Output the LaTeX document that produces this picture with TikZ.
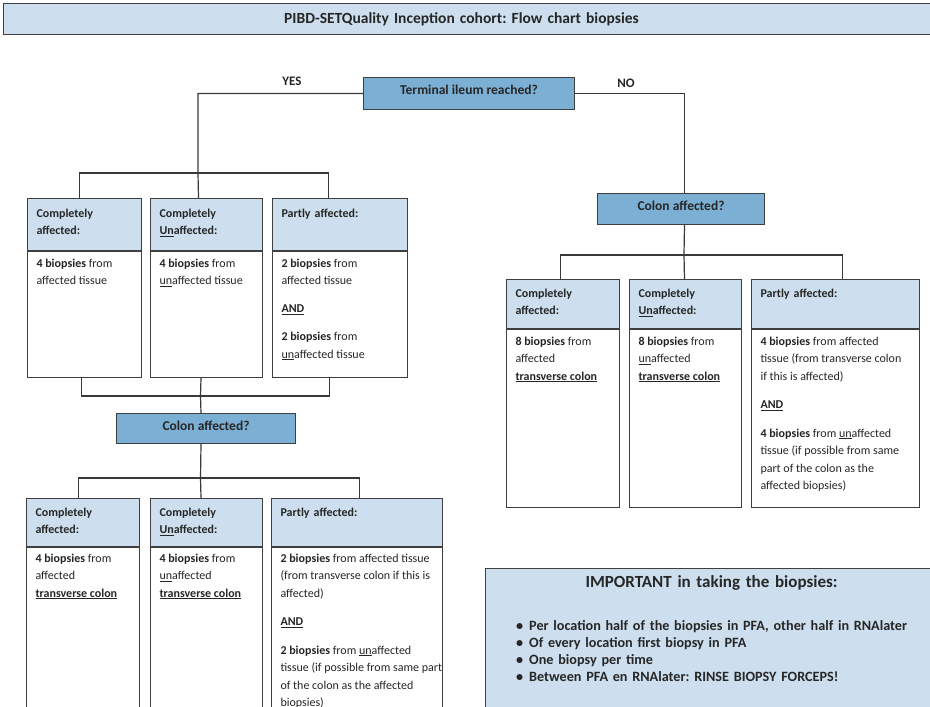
\documentclass[tikz,border=0pt]{standalone}
\usepackage{fontspec}
\setmainfont{Carlito}
\frenchspacing
\definecolor{pale}{HTML}{CDDFEE}
\definecolor{steel}{HTML}{7BAFD4}
\definecolor{boxline}{HTML}{3F3F3F}
\definecolor{ink}{HTML}{262626}
% body text: fixed width, left aligned, lines broken by hand only
\newcommand\bodytext[2]{\makebox[#1][l]{\begin{tabular}[t]{@{}l@{}}#2\end{tabular}}}

\begin{document}
\begin{tikzpicture}[x=1pt, y=-1pt,
  head/.style = {draw=boxline, fill=pale, line width=1pt, anchor=north west,
    inner xsep=9pt, inner ysep=0pt, align=left, text=ink,
    font=\fontsize{12}{17.5}\selectfont\bfseries},
  body/.style = {draw=boxline, fill=white, line width=1pt, anchor=north west,
    inner xsep=9pt, inner ysep=0pt, text=ink, text height=15.5pt,
    font=\fontsize{12}{17.5}\selectfont},
  query/.style = {draw=boxline, fill=steel, line width=1pt, anchor=north west,
    inner ysep=0pt, text height=17pt, text=ink,
    font=\fontsize{13.5}{16}\selectfont\bfseries},
  lbl/.style = {text=ink, font=\fontsize{13}{15}\selectfont\bfseries},
  link/.style = {draw=boxline!90!black, line width=1.2pt}]
\useasboundingbox (0,0) rectangle (930,707);

% title bar
\node[draw=boxline, fill=pale, line width=1pt, anchor=north west, inner sep=0pt,
  text height=20pt, text depth=11pt, text width=960pt, align=left, text=ink,
  font=\fontsize{15.5}{18}\selectfont\bfseries] (title) at (3,3)
  {\makebox[916pt]{PIBD-SETQuality Inception cohort: Flow chart biopsies}};

% decisions
\node[query, minimum width=211pt, text depth=15pt] (ileum) at (363,77) {Terminal ileum reached?};
\node[query, minimum width=167pt, text depth=14pt] (colR) at (597,193) {Colon affected?};
\node[query, minimum width=179pt, text depth=13pt] (colL) at (116,413) {Colon affected?};
\node[lbl] (yes) at (292,81) {YES};
\node[lbl] (no) at (626,83) {NO};

% ileum reached: first row
\node[head, text width=96pt, text height=18.5pt, text depth=33.5pt] (hA) at (27,198) {Completely\\affected:};
\node[head, text width=94pt, text height=18.5pt, text depth=33.5pt] (hB) at (150,198) {Completely\\\underline{Un}affected:};
\node[head, text width=117pt, text height=18.5pt, text depth=33.5pt] (hC) at (272,198) {Partly affected:};
\node[body, text depth=110.5pt] (bA) at (hA.south west)
  {\bodytext{96pt}{\textbf{4 biopsies} from\\affected tissue}};
\node[body, text depth=110.5pt] (bB) at (hB.south west)
  {\bodytext{94pt}{\textbf{4 biopsies} from\\\underline{un}affected tissue}};
\node[body, text depth=110.5pt] (bC) at (hC.south west)
  {\bodytext{117pt}{\textbf{2 biopsies} from\\affected tissue\\[10.5pt]\textbf{\underline{AND}}\\[10.5pt]
   \textbf{2 biopsies} from\\\underline{un}affected tissue}};

% ileum reached: second row
\node[head, text width=95pt, text height=17.5pt, text depth=30.5pt] (hG) at (26,498) {Completely\\affected:};
\node[head, text width=94pt, text height=17.5pt, text depth=30.5pt] (hH) at (150,498) {Completely\\\underline{Un}affected:};
\node[head, text width=153pt, text height=17.5pt, text depth=30.5pt] (hI) at (271,498) {Partly affected:};
\node[body, text height=14.5pt, text depth=158.5pt] (bG) at (hG.south west)
  {\bodytext{95pt}{\textbf{4 biopsies} from\\affected\\\textbf{\underline{transverse colon}}}};
\node[body, text height=14.5pt, text depth=158.5pt] (bH) at (hH.south west)
  {\bodytext{94pt}{\textbf{4 biopsies} from\\\underline{un}affected\\\textbf{\underline{transverse colon}}}};
\node[body, text height=14.5pt, text depth=158.5pt] (bI) at (hI.south west)
  {\bodytext{153pt}{\textbf{2 biopsies} from affected tissue\\(from transverse colon if this is\\affected)\\[11pt]
   \textbf{\underline{AND}}\\[11pt]
   \textbf{2 biopsies} from \underline{un}affected\\tissue (if possible from same part\\
   of the colon as the affected\\biopsies)}};

% ileum not reached
\node[head, text width=95pt, text height=17.5pt, text depth=31.5pt] (hD) at (506,279) {Completely\\affected:};
\node[head, text width=94pt, text height=17.5pt, text depth=31.5pt] (hE) at (629,279) {Completely\\\underline{Un}affected:};
\node[head, text width=150pt, text height=17.5pt, text depth=31.5pt] (hF) at (751,279) {Partly affected:};
\node[body, text depth=162.5pt] (bD) at (hD.south west)
  {\bodytext{95pt}{\textbf{8 biopsies} from\\affected\\\textbf{\underline{transverse colon}}}};
\node[body, text depth=162.5pt] (bE) at (hE.south west)
  {\bodytext{94pt}{\textbf{8 biopsies} from\\\underline{un}affected\\\textbf{\underline{transverse colon}}}};
\node[body, text depth=162.5pt] (bF) at (hF.south west)
  {\bodytext{150pt}{\textbf{4 biopsies} from affected\\tissue (from transverse colon\\if this is affected)\\[11pt]
   \textbf{\underline{AND}}\\[11pt]
   \textbf{4 biopsies} from \underline{un}affected\\tissue (if possible from same\\
   part of the colon as the\\affected biopsies)}};

% notes
\node[draw=boxline, fill=pale, line width=1pt, anchor=north west, inner sep=0pt,
  text width=452pt, align=center, text height=18.5pt, text depth=133.5pt, text=ink,
  font=\fontsize{17}{19}\selectfont\bfseries] (note) at (485,568)
  {IMPORTANT in taking the biopsies:};
\node[anchor=base west, inner sep=0pt, text width=410pt, align=left, text=ink,
  font=\fontsize{14.2}{17}\selectfont\bfseries] (tips) at (516,630)
  {\makebox[13pt][l]{\textbullet}Per location half of the biopsies in PFA, other half in RNAlater\\
   \makebox[13pt][l]{\textbullet}Of every location first biopsy in PFA\\
   \makebox[13pt][l]{\textbullet}One biopsy per time\\
   \makebox[13pt][l]{\textbullet}Between PFA en RNAlater: RINSE BIOPSY FORCEPS!};

% connectors
\coordinate (bar1) at (198,173);
\coordinate (bar2) at (200.5,396);
\coordinate (bar3) at (200.5,478);
\coordinate (bar4) at (684,255);
\draw[link] (ileum.west) -| (bar1) -- ([xshift=-8pt]hB.north);
\draw[link] ([xshift=-5pt]hA.north) |- (bar1) -| ([xshift=-11.5pt]hC.north);
\draw[link] ([xshift=-3pt]bA.south) |- (bar2) -| ([xshift=-10.5pt]bC.south);
\draw[link] ([xshift=-5.5pt]bB.south) -- (bar2) -- ([xshift=-5pt]colL.north);
\draw[link] ([xshift=-5pt]colL.south) -- (bar3) -- ([xshift=-5.5pt]hH.north);
\draw[link] ([xshift=-4.5pt]hG.north) |- (bar3) -| ([xshift=2.5pt]hI.north);
\draw[link] (ileum.east) -| ([xshift=3.5pt]colR.north);
\draw[link] ([xshift=3.5pt]colR.south) -- (bar4) -- ([xshift=-1pt]hE.north);
\draw[link] ([xshift=-2.5pt]hD.north) |- (bar4) -| ([xshift=7pt]hF.north);
\end{tikzpicture}
\end{document}
